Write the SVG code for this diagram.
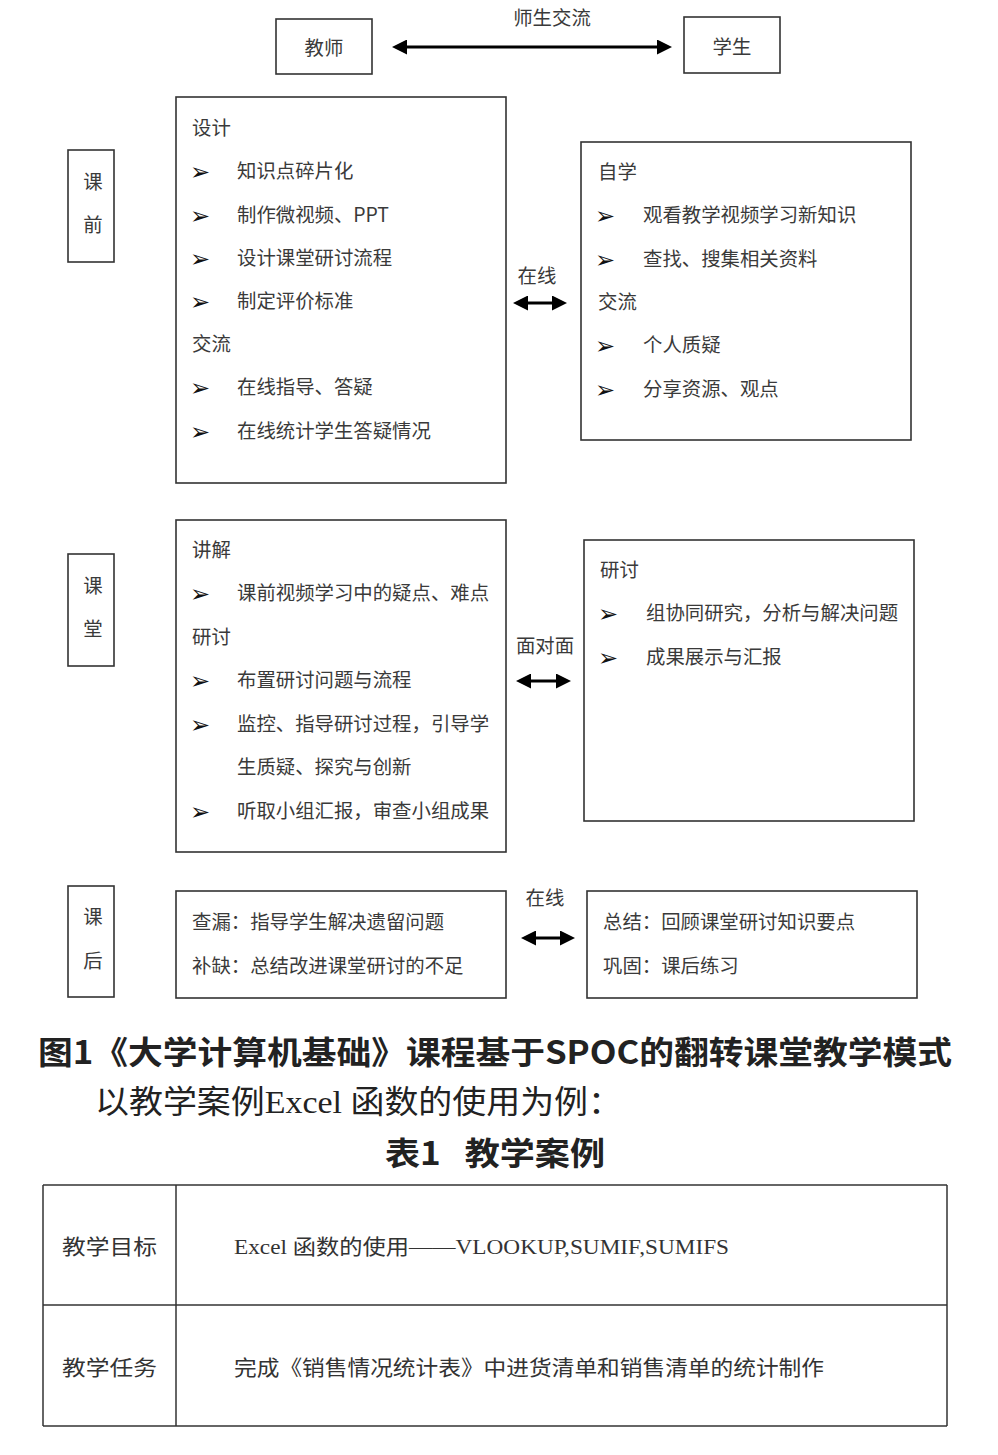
<svg xmlns="http://www.w3.org/2000/svg" width="998" height="1455" viewBox="0 0 998 1455">
<style>
.bx{fill:#fff;stroke:#333;stroke-width:1.6}
.t{font-family:"Noto Sans CJK SC","Liberation Sans",sans-serif;font-size:19.4px;fill:#3a3a3a}
.b{font-family:"DejaVu Sans",sans-serif;font-size:24px;fill:#111}
.cap{font-family:"Noto Sans CJK SC",sans-serif;font-weight:bold;font-size:32px;fill:#222}
.sub{font-family:"Liberation Serif","Noto Sans CJK SC",serif;font-size:32px;fill:#222}
.tb{font-family:"Liberation Serif","Noto Sans CJK SC",serif;font-size:21px;fill:#333}
.ln{stroke:#000;stroke-width:3;fill:none}
.tl{stroke:#333;stroke-width:1.5;fill:none}
</style>
<defs>
<marker id="ah" viewBox="0 0 10 10" refX="2" refY="5" markerWidth="5" markerHeight="5" orient="auto-start-reverse" markerUnits="strokeWidth">
<path d="M0,0 L10,5 L0,10 Z" fill="#000"/>
</marker>
</defs>
<rect width="998" height="1455" fill="#fff"/>

<g id="teacher"><rect class="bx" x="276" y="19" width="96" height="55"/><text class="t" x="324" y="55" text-anchor="middle">教师</text></g>
<g id="student"><rect class="bx" x="684" y="17" width="96" height="56"/><text class="t" x="732" y="54" text-anchor="middle">学生</text></g>

<g id="label-pre"><rect class="bx" x="68" y="150" width="46" height="112"/><text class="t" x="93" y="189" text-anchor="middle">课</text><text class="t" x="93" y="232" text-anchor="middle">前</text></g>
<g id="label-class"><rect class="bx" x="68" y="554" width="46" height="112"/><text class="t" x="93" y="593" text-anchor="middle">课</text><text class="t" x="93" y="636" text-anchor="middle">堂</text></g>
<g id="label-post"><rect class="bx" x="68" y="886" width="46" height="111"/><text class="t" x="93" y="924" text-anchor="middle">课</text><text class="t" x="93" y="968" text-anchor="middle">后</text></g>

<g id="pre-teacher"><rect class="bx" x="176" y="97" width="330" height="386"/>
<text class="t" x="192" y="135">设计</text>
<text class="b" x="190" y="180">➢</text><text class="t" x="237" y="178">知识点碎片化</text>
<text class="b" x="190" y="224">➢</text><text class="t" x="237" y="222">制作微视频、PPT</text>
<text class="b" x="190" y="267">➢</text><text class="t" x="237" y="265">设计课堂研讨流程</text>
<text class="b" x="190" y="310">➢</text><text class="t" x="237" y="308">制定评价标准</text>
<text class="t" x="192" y="351">交流</text>
<text class="b" x="190" y="396">➢</text><text class="t" x="237" y="394">在线指导、答疑</text>
<text class="b" x="190" y="440">➢</text><text class="t" x="237" y="438">在线统计学生答疑情况</text>
</g>
<g id="pre-student"><rect class="bx" x="581" y="142" width="330" height="298"/>
<text class="t" x="598" y="179">自学</text>
<text class="b" x="595" y="224">➢</text><text class="t" x="643" y="222">观看教学视频学习新知识</text>
<text class="b" x="595" y="268">➢</text><text class="t" x="643" y="266">查找、搜集相关资料</text>
<text class="t" x="598" y="309">交流</text>
<text class="b" x="595" y="354">➢</text><text class="t" x="643" y="352">个人质疑</text>
<text class="b" x="595" y="398">➢</text><text class="t" x="643" y="396">分享资源、观点</text>
</g>

<g id="class-teacher"><rect class="bx" x="176" y="520" width="330" height="332"/>
<text class="t" x="192" y="557">讲解</text>
<text class="b" x="190" y="602">➢</text><text class="t" x="237" y="600">课前视频学习中的疑点、难点</text>
<text class="t" x="192" y="644">研讨</text>
<text class="b" x="190" y="689">➢</text><text class="t" x="237" y="687">布置研讨问题与流程</text>
<text class="b" x="190" y="733">➢</text><text class="t" x="237" y="731">监控、指导研讨过程，引导学</text>
<text class="t" x="237" y="774">生质疑、探究与创新</text>
<text class="b" x="190" y="820">➢</text><text class="t" x="237" y="818">听取小组汇报，审查小组成果</text>
</g>
<g id="class-student"><rect class="bx" x="584" y="540" width="330" height="281"/>
<text class="t" x="600" y="577">研讨</text>
<text class="b" x="598" y="622">➢</text><text class="t" x="646" y="620">组协同研究，分析与解决问题</text>
<text class="b" x="598" y="666">➢</text><text class="t" x="646" y="664">成果展示与汇报</text>
</g>

<g id="post-teacher"><rect class="bx" x="176" y="891" width="330" height="107"/>
<text class="t" x="192" y="929">查漏：指导学生解决遗留问题</text>
<text class="t" x="192" y="973">补缺：总结改进课堂研讨的不足</text>
</g>
<g id="post-student"><rect class="bx" x="587" y="891" width="330" height="107"/>
<text class="t" x="603" y="929">总结：回顾课堂研讨知识要点</text>
<text class="t" x="603" y="973">巩固：课后练习</text>
</g>

<g id="connectors">
<line class="ln" x1="404" y1="47" x2="660" y2="47" marker-start="url(#ah)" marker-end="url(#ah)"/>
<text class="t" x="552" y="25" text-anchor="middle">师生交流</text>
<line class="ln" x1="525" y1="303" x2="555" y2="303" marker-start="url(#ah)" marker-end="url(#ah)"/>
<text class="t" x="537" y="283" text-anchor="middle">在线</text>
<line class="ln" x1="528" y1="681" x2="559" y2="681" marker-start="url(#ah)" marker-end="url(#ah)"/>
<text class="t" x="545" y="653" text-anchor="middle">面对面</text>
<line class="ln" x1="533" y1="938" x2="563" y2="938" marker-start="url(#ah)" marker-end="url(#ah)"/>
<text class="t" x="545" y="905" text-anchor="middle">在线</text>
</g>

<text class="cap" x="38" y="1064" textLength="914" lengthAdjust="spacingAndGlyphs">图1《大学计算机基础》课程基于SPOC的翻转课堂教学模式</text>
<text class="sub" x="95" y="1113" textLength="527" lengthAdjust="spacingAndGlyphs">以教学案例Excel 函数的使用为例：</text>
<text class="cap" x="385" y="1165" textLength="220" lengthAdjust="spacingAndGlyphs">表1&#160;&#160;&#160;教学案例</text>

<g id="table">
<line class="tl" x1="43" y1="1185" x2="947" y2="1185"/>
<line class="tl" x1="43" y1="1305" x2="947" y2="1305"/>
<line class="tl" x1="43" y1="1426" x2="947" y2="1426"/>
<line class="tl" x1="43" y1="1185" x2="43" y2="1426"/>
<line class="tl" x1="176" y1="1185" x2="176" y2="1426" stroke-width="1"/>
<line class="tl" x1="947" y1="1185" x2="947" y2="1426"/>
<text class="tb" x="62" y="1254" textLength="95" lengthAdjust="spacingAndGlyphs">教学目标</text>
<text class="tb" x="234" y="1254" textLength="495" lengthAdjust="spacingAndGlyphs">Excel 函数的使用——VLOOKUP,SUMIF,SUMIFS</text>
<text class="tb" x="62" y="1375" textLength="95" lengthAdjust="spacingAndGlyphs">教学任务</text>
<text class="tb" x="234" y="1375" textLength="590" lengthAdjust="spacingAndGlyphs">完成《销售情况统计表》中进货清单和销售清单的统计制作</text>
</g>
</svg>
